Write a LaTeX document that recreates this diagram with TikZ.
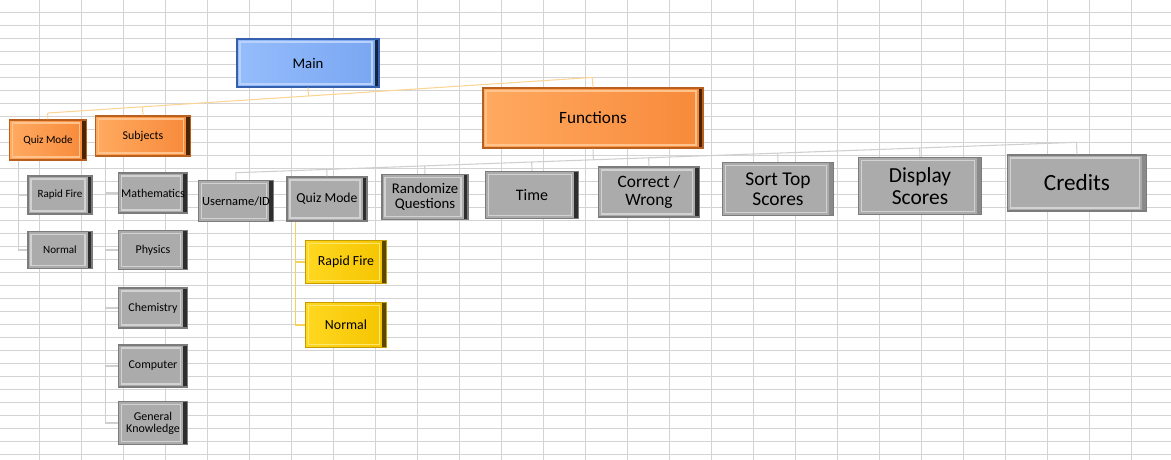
\documentclass[tikz,border=0pt]{standalone}
\usepackage{fontspec}
\setmainfont{Carlito}
\usetikzlibrary{calc}
\usetikzlibrary{positioning}

\newlength\pxu
\setlength\pxu{0.02cm}

\definecolor{gridline}{HTML}{D3D3D3}
\definecolor{boxgray}{HTML}{ABABAB}
\definecolor{edgegray}{HTML}{7C7C7C}
\definecolor{ringgray}{HTML}{D2D2D2}
\definecolor{sidegray}{HTML}{2E2E2E}
\definecolor{sidelight}{HTML}{8A8A8A}
\definecolor{orangeA}{HTML}{FFAA60}
\definecolor{orangeB}{HTML}{F7893A}
\definecolor{edgeorange}{HTML}{B9601F}
\definecolor{ringorange}{HTML}{FFC48E}
\definecolor{sideorange}{HTML}{4A2400}
\definecolor{blueA}{HTML}{95BDFB}
\definecolor{blueB}{HTML}{79A6F2}
\definecolor{edgeblue}{HTML}{3560AE}
\definecolor{ringblue}{HTML}{B8D2FC}
\definecolor{sideblue}{HTML}{14233F}
\definecolor{yellowA}{HTML}{FFD820}
\definecolor{yellowB}{HTML}{F5C400}
\definecolor{edgeyellow}{HTML}{C49B00}
\definecolor{ringyellow}{HTML}{FFE670}
\definecolor{sideyellow}{HTML}{5A4700}
\definecolor{busorange}{HTML}{FBD594}
\definecolor{busgray}{HTML}{CFCFCF}
\definecolor{busyellow}{HTML}{F4D25A}

\tikzset{
  gridline/.style={draw=gridline, line width=0.55pt},
  bevelbox/.style n args={5}{draw=#3, line width=0.85pt, left color=#1, right color=#2,
    inner sep=0pt, align=center, text=black,
    path picture={
      \fill[#5] ([xshift=-4.5\pxu]path picture bounding box.north east) rectangle (path picture bounding box.south east);
      \draw[#4, line width=0.6pt] ([shift={(3\pxu,-3\pxu)}]path picture bounding box.north west)
        rectangle ([shift={(-7\pxu,3\pxu)}]path picture bounding box.south east);
    }},
  graybox/.style={bevelbox={boxgray}{boxgray}{edgegray}{ringgray}{sidegray}},
  graylight/.style={bevelbox={boxgray}{boxgray}{edgegray}{ringgray}{sidelight}},
  orangebox/.style={bevelbox={orangeA}{orangeB}{edgeorange}{ringorange}{sideorange}},
  bluebox/.style={bevelbox={blueA}{blueB}{edgeblue}{ringblue}{sideblue}},
  yellowbox/.style={bevelbox={yellowA}{yellowB}{edgeyellow}{ringyellow}{sideyellow}},
  fs/.style={font=\fontsize{#1}{#1}\selectfont},
  sz/.style 2 args={minimum width=#1\pxu, minimum height=#2\pxu},
  mainbus/.style={draw=busorange, line width=0.6pt},
  funcbus/.style={draw=busgray, line width=0.6pt},
  treeline/.style={draw=busgray, line width=0.6pt},
  yellowline/.style={draw=busyellow, line width=0.6pt}
}

\begin{document}
\begin{tikzpicture}[x=0.02cm, y=-0.02cm]
  \fill[white] (0,0) rectangle (1171,460);
  \useasboundingbox (0,0) rectangle (1171,460);

  % sheet grid
  \foreach \gx in {0,...,26}
    \draw[gridline] ({39.5+42*\gx},0) -- ({39.5+42*\gx},460);
  \foreach \gy in {0,...,34}
    \draw[gridline] (0,{12.3+13*\gy}) -- (1171,{12.3+13*\gy});

  % top levels
  \node[bluebox, sz={142}{48}, fs=8.4] (main) at (308,63) {Main};
  \node[orangebox, sz={77}{40}, fs=6.3] (qmode) at (48,140) {Quiz Mode};
  \node[orangebox, sz={95}{40}, fs=6.8] (subj) at (143,136) {Subjects};
  \node[orangebox, sz={220}{60}, fs=9.8] (func) at (593,118) {Functions};

  % quiz mode
  \node[graybox, sz={64}{38}, fs=6.3] (qrapid) at (60,195) {Rapid Fire};
  \node[graybox, sz={64}{37}, fs=6.3] (qnormal) at (60,250) {Normal};

  % subjects
  \node[graybox, sz={69}{40}, fs=6.8] (math) at (153,193) {Mathematics};
  \node[graybox, sz={69}{39}, fs=6.8] (phys) at (153,250) {Physics};
  \node[graybox, sz={69}{40}, fs=6.8] (chem) at (153,308) {Chemistry};
  \node[graybox, sz={69}{42}, fs=6.8] (comp) at (153,366) {Computer};
  \node[graybox, sz={69}{43}, fs=6.8] (gk) at (153,423) {General\\Knowledge};

  % functions
  \node[graybox, sz={75}{41}, fs=7.1] (user) at (236,201) {Username/ID};
  \node[graybox, sz={80}{44}, fs=7.8] (fqmode) at (327,199) {Quiz Mode};
  \node[graybox, sz={86}{45}, fs=8.4] (rand) at (425,197) {Randomize\\Questions};
  \node[graybox, sz={93}{47}, fs=9.1] (time) at (532,195) {Time};
  \node[graybox, sz={101}{50}, fs=9.9] (corr) at (649,192) {Correct /\\Wrong};
  \node[graylight, sz={111}{53}, fs=11.1] (sort) at (778,189) {Sort Top\\Scores};
  \node[graylight, sz={123}{57}, fs=12.2] (disp) at (920,186) {Display\\Scores};
  \node[graylight, sz={139}{56}, fs=13.2] (cred) at (1077,183) {Credits};

  % quiz mode under functions
  \node[yellowbox, sz={81}{43}, fs=7.9] (yrapid) at (346,262) {Rapid Fire};
  \node[yellowbox, sz={81}{45}, fs=7.9] (ynormal) at (346,325) {Normal};

  % main bus
  \coordinate (mbusL) at (48,113);
  \coordinate (mbusR) at (593,77.4);
  \draw[mainbus] (mbusL) -- (mbusR);
  \draw[mainbus] (main.south) -- ($(mbusL)!(main.south)!(mbusR)$);
  \foreach \n in {qmode,subj,func}
    \draw[mainbus] ($(mbusL)!(\n.north)!(mbusR)$) -- (\n.north);

  % functions bus
  \coordinate (fbusL) at (236,172.7);
  \coordinate (fbusR) at (1077,142.3);
  \draw[funcbus] (fbusL) -- (fbusR);
  \draw[funcbus] (func.south) -- ($(fbusL)!(func.south)!(fbusR)$);
  \foreach \n in {user,fqmode,rand,time,corr,sort,disp,cred}
    \draw[funcbus] ($(fbusL)!(\n.north)!(fbusR)$) -- (\n.north);

  % side trees
  \foreach \n in {qrapid,qnormal}
    \draw[treeline] ([xshift=10\pxu]qmode.south west) |- (\n.west);
  \foreach \n in {math,phys,chem,comp,gk}
    \draw[treeline] ([xshift=11\pxu]subj.south west) |- (\n.west);
  \foreach \n in {yrapid,ynormal}
    \draw[yellowline] ([xshift=9\pxu]fqmode.south west) |- (\n.west);
\end{tikzpicture}
\end{document}
